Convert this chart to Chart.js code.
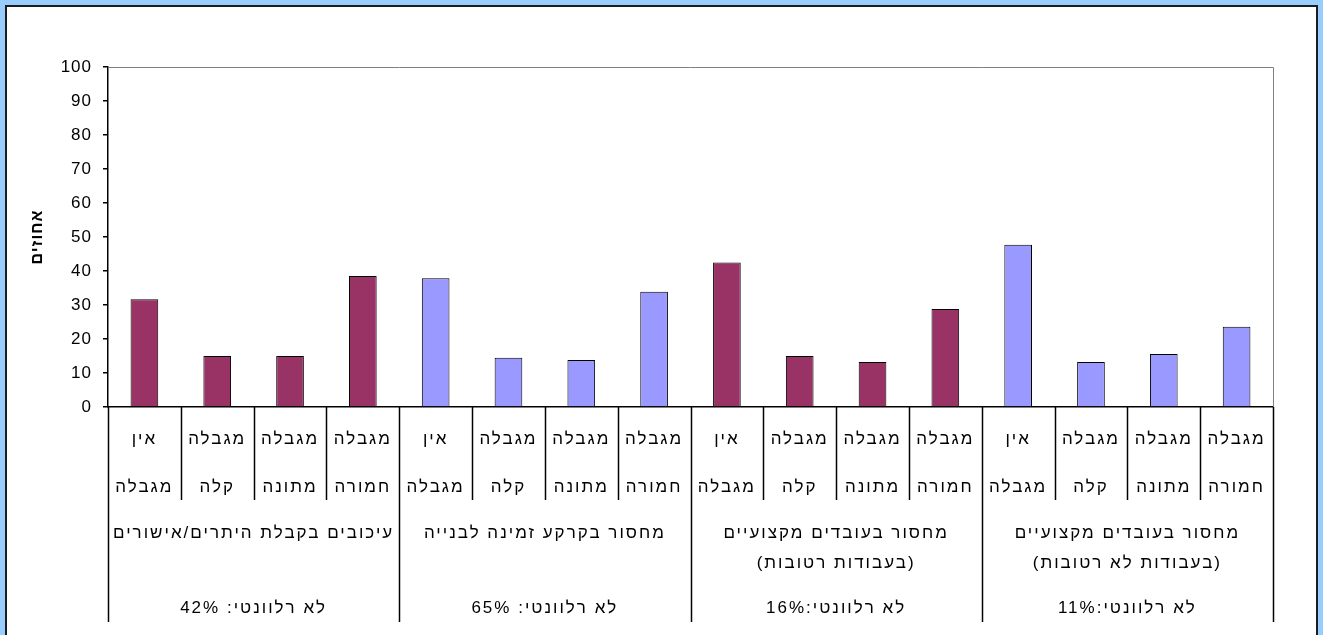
<!DOCTYPE html>
<html>
<head>
<meta charset="utf-8">
<script src="https://cdn.jsdelivr.net/npm/chart.js@4"></script>
<style>
  html, body { margin: 0; padding: 0; background: #99CCFF; }
  #wrap { position: relative; width: 1323px; height: 635px; }
</style>
</head>
<body>
<div id="wrap"><canvas id="chart" width="1323" height="635"></canvas></div>
<script>
// sub categories (each 2 lines), repeated in every group
const levels = [['אין', 'מגבלה'], ['מגבלה', 'קלה'], ['מגבלה', 'מתונה'], ['מגבלה', 'חמורה']];
// groups
const groups = [
    ['עיכובים בקבלת היתרים/אישורים'],
    ['מחסור בקרקע זמינה לבנייה'],
    ['מחסור בעובדים מקצועיים', '(בעבודות רטובות)'],
    ['מחסור בעובדים מקצועיים', '(בעבודות לא רטובות)']
];
const notRelevant = ['לא רלוונטי: 42%', 'לא רלוונטי: 65%', 'לא רלוונטי:16%', 'לא רלוונטי:11%'];
const groupColors = ['#993366', '#9999FF', '#993366', '#9999FF'];

// percent values, left to right
const values = [31.7, 15.0, 15.0, 38.5, 37.9, 14.5, 13.8, 33.9, 42.5, 15.0, 13.2, 28.8, 47.7, 13.2, 15.6, 23.6];
const yTicks = [0, 10, 20, 30, 40, 50, 60, 70, 80, 90, 100];
const yTitle = 'אחוזים';

const labels = [];
const colors = [];
groups.forEach((g, gi) => {
    levels.forEach(l => {
        labels.push(l.join(' ') + ' - ' + g.join(' '));
        colors.push(groupColors[gi]);
    });
});

const hebFont = '17px "Liberation Sans", Arial';

const framePlugin = {
    id: 'frame',
    beforeDraw(chart) {
        const ctx = chart.ctx;
        ctx.save();
        ctx.fillStyle = '#99CCFF';
        ctx.fillRect(0, 0, chart.width, chart.height);
        ctx.fillStyle = '#1c1c1c';
        ctx.fillRect(5, 5, 1313, 640);
        ctx.fillStyle = '#ffffff';
        ctx.fillRect(7, 7, 1309, 640);
        ctx.restore();
        // slightly spaced text like the original
        ctx.letterSpacing = '1px';
    },
    afterDraw(chart) {
        const ctx = chart.ctx;
        const area = chart.chartArea;
        const x = chart.scales.x;
        const n = labels.length;
        const w = (area.right - area.left) / n;
        ctx.save();
        // plot area top/right border
        ctx.strokeStyle = '#808080';
        ctx.lineWidth = 1;
        ctx.beginPath();
        ctx.moveTo(area.left, area.top + 0.5);
        ctx.lineTo(area.right + 0.5, area.top + 0.5);
        ctx.lineTo(area.right + 0.5, area.bottom);
        ctx.stroke();

        // separators under the axis
        ctx.strokeStyle = '#000000';
        ctx.lineWidth = 1.5;
        for (let i = 0; i <= n; i++) {
            const bx = Math.round(x.getPixelForValue(i) - w / 2) + 0.5;
            const long = i % levels.length === 0;
            ctx.beginPath();
            ctx.moveTo(bx, area.bottom);
            ctx.lineTo(bx, long ? 622 : 500);
            ctx.stroke();
        }

        ctx.fillStyle = '#000000';
        ctx.font = hebFont;
        ctx.letterSpacing = '2px';
        ctx.direction = 'rtl';
        ctx.textAlign = 'center';
        ctx.textBaseline = 'middle';
        for (let i = 0; i < n; i++) {
            const cx = x.getPixelForValue(i);
            const l = levels[i % levels.length];
            ctx.fillText(l[0], cx, 439);
            ctx.fillText(l[1], cx, 487);
        }
        groups.forEach((g, gi) => {
            const first = x.getPixelForValue(gi * levels.length);
            const last = x.getPixelForValue(gi * levels.length + levels.length - 1);
            const cx = (first + last) / 2;
            g.forEach((line, li) => ctx.fillText(line, cx, 533 + li * 30));
            ctx.fillText(notRelevant[gi], cx, 608);
        });
        ctx.restore();
    }
};

const ctx = document.getElementById('chart').getContext('2d');
const chart = new Chart(ctx, {
    type: 'bar',
    data: {
        labels: labels,
        datasets: [{
            data: values,
            backgroundColor: colors,
            borderColor: '#000000',
            borderWidth: 1,
            barPercentage: 0.38,
            categoryPercentage: 1
        }]
    },
    options: {
        responsive: false,
        animation: false,
        layout: { padding: { left: 0, top: 67, right: 50, bottom: 0 } },
        plugins: { legend: { display: false }, tooltip: { enabled: false } },
        scales: {
            x: {
                ticks: { display: false },
                grid: { display: false },
                border: { display: true, color: '#000000', width: 1.5 },
                afterFit: s => { s.height = 228; }
            },
            y: {
                min: 0,
                max: 100,
                afterBuildTicks: s => { s.ticks = yTicks.map(v => ({ value: v })); },
                ticks: {
                    color: '#000000',
                    padding: 11,
                    font: { family: '"Liberation Sans", Arial', size: 17 }
                },
                grid: { drawOnChartArea: false, tickLength: 5, color: '#000000', lineWidth: 1.5 },
                border: { display: true, color: '#000000', width: 1.5 },
                title: {
                    display: true,
                    text: yTitle,
                    color: '#000000',
                    font: { family: '"Liberation Sans", Arial', size: 16, weight: 'bold' },
                    padding: { top: 28, bottom: 0 }
                },
                afterFit: s => { s.width = 108; }
            }
        }
    },
    plugins: [framePlugin]
});
</script>
</body>
</html>
